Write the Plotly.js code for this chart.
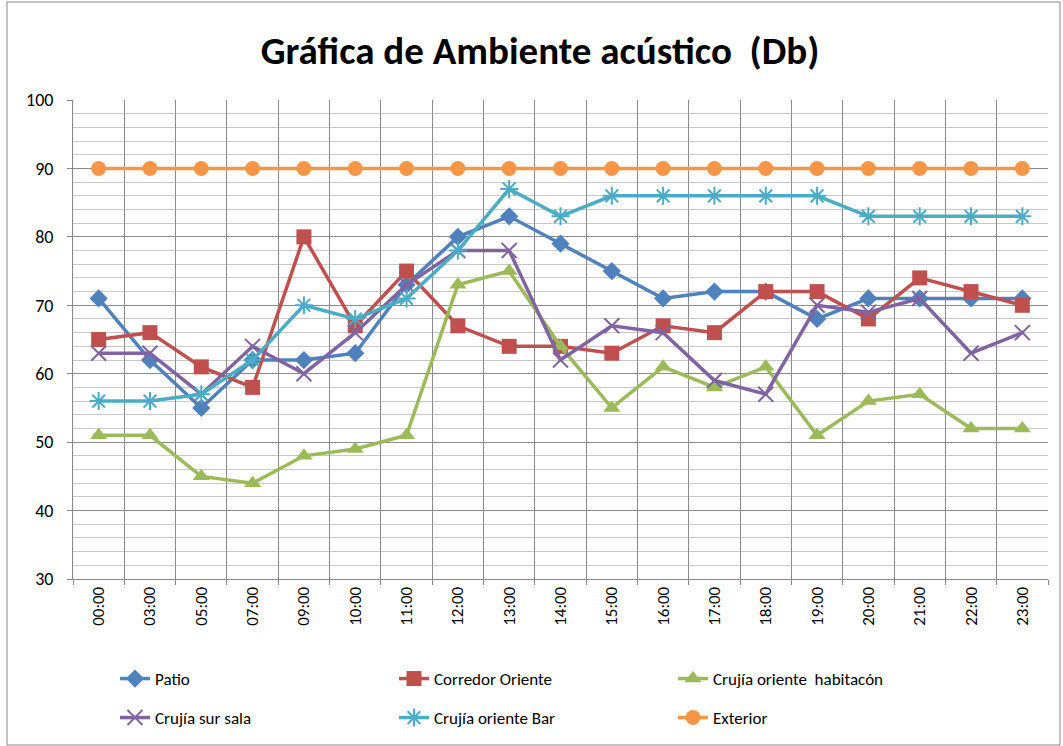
<!DOCTYPE html>
<html>
<head>
<meta charset="utf-8">
<script src="https://cdn.plot.ly/plotly-3.0.1.min.js"></script>
<style>html,body{margin:0;padding:0;background:#fff}#chart{width:1063px;height:746px}</style>
</head>
<body>
<div id="chart"></div>
<script>
const hours = ["00:00","03:00","05:00","07:00","09:00","10:00","11:00","12:00","13:00","14:00","15:00","16:00","17:00","18:00","19:00","20:00","21:00","22:00","23:00"];
const patio = [71,62,55,62,62,63,73,80,83,79,75,71,72,72,68,71,71,71,71];
const corredorOriente = [65,66,61,58,80,67,75,67,64,64,63,67,66,72,72,68,74,72,70];
const crujiaOrienteHab = [51,51,45,44,48,49,51,73,75,64,55,61,58,61,51,56,57,52,52];
const crujiaSurSala = [63,63,57,64,60,66,73,78,78,62,67,66,59,57,70,69,71,63,66];
const crujiaOrienteBar = [56,56,57,62,70,68,71,78,87,83,86,86,86,86,86,83,83,83,83];
const exterior = [90,90,90,90,90,90,90,90,90,90,90,90,90,90,90,90,90,90,90];
const seriesNames = ["Patio","Corredor Oriente","Crujía oriente  habitacón","Crujía sur sala","Crujía oriente Bar","Exterior"];

const styles = [
  {c:"#4F81BD", s:"diamond", z:14},
  {c:"#C0504D", s:"square", z:15},
  {c:"#9BBB59", s:"triangle-up", z:15},
  {c:"#8064A2", s:"x-thin-open", z:15},
  {c:"#4BACC6", s:"asterisk-open", z:15},
  {c:"#F79646", s:"circle", z:15}
];
const data = [patio, corredorOriente, crujiaOrienteHab, crujiaSurSala, crujiaOrienteBar, exterior];
const traces = data.map((y,i)=>({
  type:"scatter", mode:"lines+markers", x:hours, y:y, name:seriesNames[i],
  legend: i < 3 ? "legend" : "legend2",
  line:{color:styles[i].c, width:3.5},
  marker:{symbol:styles[i].s, size:styles[i].z, color:styles[i].c,
          line:{color:styles[i].c, width:(styles[i].s.indexOf("open")>=0?2:0)}}
}));

const font = "Carlito, Calibri, 'Open Sans', 'Liberation Sans', sans-serif";
const legendBase = {orientation:"h", xref:"container", yref:"container", x:115/1063, xanchor:"left",
          yanchor:"middle", entrywidth:234, entrywidthmode:"pixels",
          font:{family:font, size:17, color:"#000"}, traceorder:"normal", bgcolor:"rgba(0,0,0,0)"};
const layout = {
  width:1063, height:746,
  margin:{l:73, r:15, t:100, b:167, autoexpand:false},
  paper_bgcolor:"#fff", plot_bgcolor:"#fff",
  font:{family:font, size:17, color:"#000"},
  title:{text:"<b>Gráfica de Ambiente acústico  (Db)</b>", x:540/1063, xref:"container", xanchor:"center",
         y:1-50/746, yref:"container", yanchor:"middle",
         font:{family:font, size:39, color:"#000"}},
  showlegend:true,
  legend:Object.assign({}, legendBase, {y:1-679/746}),
  legend2:Object.assign({}, legendBase, {y:1-718/746}),
  xaxis:{type:"category", range:[-0.5, hours.length-0.5], autorange:false, tickson:"boundaries",
         showgrid:true, gridcolor:"#8a8a8a", gridwidth:1,
         showline:true, linecolor:"#868686", linewidth:1, ticks:"outside", ticklen:5, tickcolor:"#868686",
         tickangle:-90, tickfont:{family:font, size:17}, zeroline:false},
  yaxis:{range:[30,100], autorange:false, dtick:10, tick0:30, showgrid:true, gridcolor:"#8a8a8a", gridwidth:1,
         minor:{dtick:2, showgrid:true, gridcolor:"#c8c8c8", gridwidth:1},
         showline:true, linecolor:"#868686", linewidth:1, ticks:"outside", ticklen:5, tickcolor:"#868686",
         ticklabelstandoff:10, tickfont:{family:font, size:18}, zeroline:false},
  shapes:[{type:"rect", xref:"paper", yref:"paper", x0:-0.0677, x1:1.0123, y0:-0.3466, y1:1.2046,
           line:{color:"#868686", width:1}, fillcolor:"rgba(0,0,0,0)", layer:"below"}]
};
Plotly.newPlot("chart", traces, layout, {displayModeBar:false});
</script>
</body>
</html>
